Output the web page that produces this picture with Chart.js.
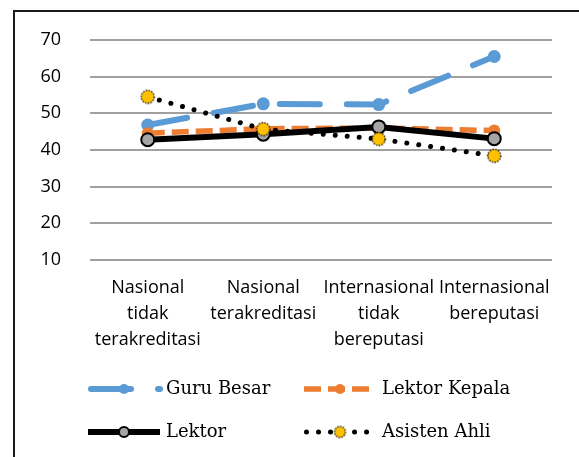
<!DOCTYPE html>
<html>
<head>
<meta charset="utf-8">
<script src="https://cdn.jsdelivr.net/npm/chart.js@4/dist/chart.umd.min.js"></script>
<style>
  html, body { margin: 0; padding: 0; background: #fff; }
  #wrap { width: 579px; height: 457px; position: relative; }
</style>
</head>
<body>
<div id="wrap"><canvas id="c" width="579" height="457"></canvas></div>
<script>
const categories = [
  ["Nasional", "tidak", "terakreditasi"],
  ["Nasional", "terakreditasi"],
  ["Internasional", "tidak", "bereputasi"],
  ["Internasional", "bereputasi"]
];
const seriesNames = ["Guru Besar", "Lektor Kepala", "Lektor", "Asisten Ahli"];
const guruBesar = [46.8, 52.6, 52.4, 65.5];
const lektorKepala = [44.6, 45.8, 46.0, 45.3];
const lektor = [42.8, 44.3, 46.3, 43.1];
const asistenAhli = [54.5, 45.7, 43.0, 38.4];
const yMin = 10, yMax = 70, yStep = 10;

// dotted-outline yellow marker image
function makeYellowMarker(r) {
  const s = r * 2 + 4;
  const cv = document.createElement('canvas');
  cv.width = s; cv.height = s;
  const g = cv.getContext('2d');
  g.beginPath();
  g.arc(s / 2, s / 2, r, 0, Math.PI * 2);
  g.fillStyle = '#FFC000';
  g.fill();
  g.setLineDash([1.4, 1.4]);
  g.lineWidth = 1.3;
  g.strokeStyle = '#000';
  g.stroke();
  return cv;
}
const yellowMarker = makeYellowMarker(6.5);
const yellowMarkerSmall = makeYellowMarker(5.5);

const frame = {
  id: 'frame',
  beforeDraw(chart) {
    const ctx = chart.ctx;
    ctx.save();
    ctx.fillStyle = '#fff';
    ctx.fillRect(0, 0, chart.width, chart.height);
    ctx.strokeStyle = '#1a1a1a';
    ctx.lineWidth = 2;
    ctx.beginPath();
    ctx.moveTo(14, 470);
    ctx.lineTo(14, 11);
    ctx.lineTo(600, 11);
    ctx.stroke();
    ctx.restore();
  }
};

const legendPlugin = {
  id: 'customLegend',
  afterDraw(chart) {
    const ctx = chart.ctx;
    const pos = [[88, 389], [304, 389], [88, 432], [304, 432]];
    chart.data.datasets.forEach((ds, i) => {
      const [x0, y] = pos[i];
      const len = 72;
      ctx.save();
      ctx.beginPath();
      ctx.rect(x0 - 4, y - 10, len + 8, 20);
      ctx.clip();
      ctx.strokeStyle = ds.borderColor;
      ctx.lineWidth = ds.borderWidth;
      ctx.lineCap = ds.borderCapStyle || 'butt';
      ctx.setLineDash(ds.borderDash || []);
      const off = ds.borderCapStyle === 'round' ? ds.borderWidth / 2 : 0;
      ctx.beginPath();
      ctx.moveTo(x0 + off, y);
      ctx.lineTo(x0 + len, y);
      ctx.stroke();
      ctx.restore();
      // marker
      ctx.save();
      const mx = x0 + len / 2;
      if (ds.legendMarker) {
        ctx.drawImage(ds.legendMarker, mx - ds.legendMarker.width / 2, y - ds.legendMarker.height / 2);
      } else {
        ctx.beginPath();
        ctx.arc(mx, y, 5, 0, Math.PI * 2);
        ctx.fillStyle = ds.pointBackgroundColor;
        ctx.fill();
        if (ds.pointBorderWidth) {
          ctx.lineWidth = ds.pointBorderWidth;
          ctx.strokeStyle = ds.pointBorderColor;
          ctx.stroke();
        }
      }
      ctx.restore();
      ctx.save();
      ctx.fillStyle = '#000';
      ctx.font = '18px "DejaVu Serif"';
      ctx.textBaseline = 'middle';
      ctx.textAlign = 'left';
      ctx.fillText(ds.label, x0 + len + 6, y);
      ctx.restore();
    });
  }
};

new Chart(document.getElementById('c'), {
  type: 'line',
  data: {
    labels: categories,
    datasets: [
      {
        label: seriesNames[0], data: guruBesar, order: 4,
        borderColor: '#5B9BD5', borderWidth: 6, borderDash: [40, 27], borderCapStyle: 'round',
        pointRadius: 6.5, pointBackgroundColor: '#5B9BD5', pointBorderColor: '#5B9BD5', pointBorderWidth: 0,
        tension: 0, fill: false
      },
      {
        label: seriesNames[1], data: lektorKepala, order: 3,
        borderColor: '#ED7D31', borderWidth: 5.5, borderDash: [17, 7], borderCapStyle: 'butt',
        pointRadius: 6, pointBackgroundColor: '#ED7D31', pointBorderColor: '#ED7D31', pointBorderWidth: 0,
        tension: 0, fill: false
      },
      {
        label: seriesNames[2], data: lektor, order: 2,
        borderColor: '#000000', borderWidth: 6, borderCapStyle: 'butt',
        pointRadius: 6.5, pointBackgroundColor: '#A5A5A5', pointBorderColor: '#000000', pointBorderWidth: 2,
        tension: 0, fill: false
      },
      {
        label: seriesNames[3], data: asistenAhli, order: 1,
        borderColor: '#000000', borderWidth: 5, borderDash: [0.01, 12], borderCapStyle: 'round',
        pointRadius: 6.5, pointStyle: yellowMarker, legendMarker: yellowMarkerSmall,
        pointBackgroundColor: '#FFC000', pointBorderColor: '#000',
        tension: 0, fill: false
      }
    ]
  },
  options: {
    responsive: false,
    animation: false,
    events: [],
    layout: { padding: { top: 40, right: 27, left: 0, bottom: 0 } },
    plugins: { legend: { display: false }, tooltip: { enabled: false } },
    scales: {
      x: {
        offset: true,
        grid: { display: false, drawTicks: false },
        border: { display: false },
        ticks: {
          color: '#000', padding: 15, maxRotation: 0, autoSkip: false,
          font: { family: '"Open Sans"', size: 18, lineHeight: 1.44 }
        },
        afterFit(s) { s.height = 197; }
      },
      y: {
        min: yMin, max: yMax,
        grid: { color: '#a0a0a0', lineWidth: 2, drawTicks: false },
        border: { display: false },
        ticks: {
          stepSize: yStep, color: '#000', padding: 29,
          font: { family: '"Open Sans"', size: 18 }
        },
        afterFit(s) { s.width = 90; }
      }
    }
  },
  plugins: [frame, legendPlugin]
});
</script>
</body>
</html>
